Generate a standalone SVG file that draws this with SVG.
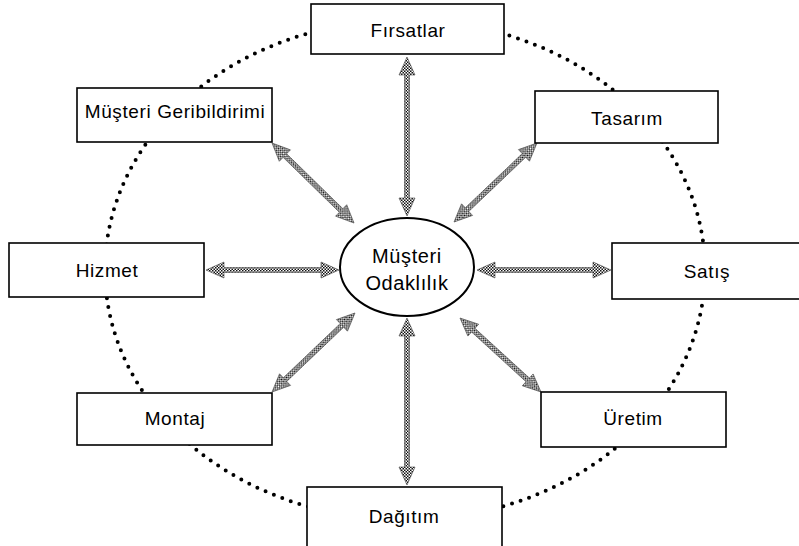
<svg xmlns="http://www.w3.org/2000/svg" width="799" height="546" viewBox="0 0 799 546">
<style>
.box{fill:#fff;stroke:#000;stroke-width:1.6}
.lbl{font-family:"Liberation Sans",Arial,sans-serif;font-size:19px;letter-spacing:0.6px;fill:#000;text-anchor:middle}
.arr{fill:url(#dither);stroke:#444;stroke-width:0.6}
</style>
<defs>
<pattern id="dither" width="3" height="3" patternUnits="userSpaceOnUse">
<rect width="3" height="3" fill="#fff"/>
<rect width="1.5" height="1.5" fill="#111"/>
<rect x="1.5" y="1.5" width="1.5" height="1.5" fill="#111"/>
</pattern>
</defs>
<rect width="799" height="546" fill="#fff"/>
<g id="ring">
<ellipse cx="405" cy="270" rx="300" ry="250" fill="none" stroke="#000" stroke-width="4" stroke-linecap="round" stroke-dasharray="0 9"/>
</g>
<g id="connectors">
<path class="arr" transform="translate(407,57) rotate(90)" d="M0,0 L18,-8 L18,-2.5 L141,-2.5 L141,-8 L159,0 L141,8 L141,2.5 L18,2.5 L18,8 Z"/>
<path class="arr" transform="translate(407,318) rotate(90)" d="M0,0 L18,-8 L18,-2.5 L149,-2.5 L149,-8 L167,0 L149,8 L149,2.5 L18,2.5 L18,8 Z"/>
<path class="arr" transform="translate(206,270)" d="M0,0 L18,-8 L18,-2.5 L115,-2.5 L115,-8 L133,0 L115,8 L115,2.5 L18,2.5 L18,8 Z"/>
<path class="arr" transform="translate(477,270)" d="M0,0 L18,-8 L18,-2.5 L116,-2.5 L116,-8 L134,0 L116,8 L116,2.5 L18,2.5 L18,8 Z"/>
<path class="arr" transform="translate(272,143) rotate(44.3)" d="M0,0 L18,-8 L18,-2.5 L96.6,-2.5 L96.6,-8 L114.6,0 L96.6,8 L96.6,2.5 L18,2.5 L18,8 Z"/>
<path class="arr" transform="translate(537,143) rotate(136.4)" d="M0,0 L18,-8 L18,-2.5 L96.6,-2.5 L96.6,-8 L114.6,0 L96.6,8 L96.6,2.5 L18,2.5 L18,8 Z"/>
<path class="arr" transform="translate(272,392) rotate(-43.6)" d="M0,0 L18,-8 L18,-2.5 L96.6,-2.5 L96.6,-8 L114.6,0 L96.6,8 L96.6,2.5 L18,2.5 L18,8 Z"/>
<path class="arr" transform="translate(541,392) rotate(222.4)" d="M0,0 L18,-8 L18,-2.5 L91.7,-2.5 L91.7,-8 L109.7,0 L91.7,8 L91.7,2.5 L18,2.5 L18,8 Z"/>
</g>
<g id="center">
<ellipse cx="407" cy="267" rx="67" ry="49" fill="#fff" stroke="#000" stroke-width="2"/>
<text class="lbl" x="407" y="263" style="font-size:20px">Müşteri</text>
<text class="lbl" x="407" y="290" style="font-size:20px">Odaklılık</text>
</g>
<g id="firsatlar"><rect class="box" x="311" y="4" width="193" height="50"/><text class="lbl" x="408" y="37">Fırsatlar</text></g>
<g id="geribildirim"><rect class="box" x="77" y="88" width="195" height="54"/><text class="lbl" x="175" y="118">Müşteri Geribildirimi</text></g>
<g id="tasarim"><rect class="box" x="535" y="91" width="183" height="52"/><text class="lbl" x="627" y="125">Tasarım</text></g>
<g id="hizmet"><rect class="box" x="9" y="243" width="195" height="54"/><text class="lbl" x="107" y="277">Hizmet</text></g>
<g id="satis"><rect class="box" x="612" y="243" width="200" height="56"/><text class="lbl" x="707" y="278">Satış</text></g>
<g id="montaj"><rect class="box" x="77" y="393" width="195" height="52"/><text class="lbl" x="175" y="425">Montaj</text></g>
<g id="uretim"><rect class="box" x="541" y="392" width="185" height="55"/><text class="lbl" x="633" y="425">Üretim</text></g>
<g id="dagitim"><rect class="box" x="307" y="487" width="195" height="80"/><text class="lbl" x="404" y="523">Dağıtım</text></g>
</svg>
